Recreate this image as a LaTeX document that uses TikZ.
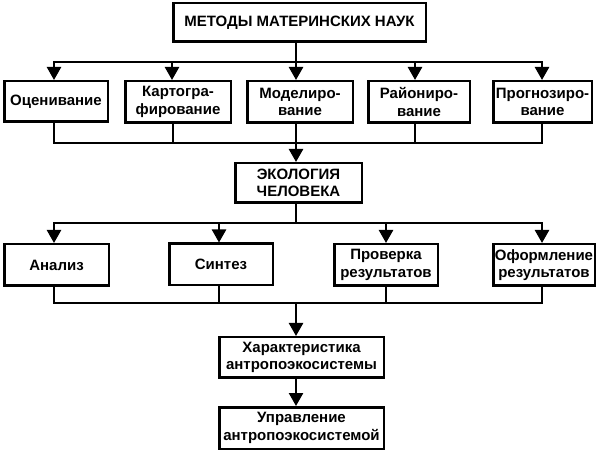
\documentclass[tikz,border=0pt]{standalone}
\usepackage{fontspec}
\setmainfont{Liberation Sans}
\usetikzlibrary{arrows.meta}
\begin{document}
\begin{tikzpicture}[x=1pt,y=-1pt,
  box/.style={draw=black,line width=2.5pt,fill=white,align=center,inner sep=0pt,
    font=\fontsize{15}{17.5}\selectfont\bfseries},
  link/.style={line width=2.5pt,line cap=rect},
  arr/.style={line width=2.5pt,-{Triangle[width=14pt,length=13pt]}},
]
\useasboundingbox[fill=white] (0,0) rectangle (600,454);
% boxes (minimum sizes = outer size - line width)
\node[box,minimum width=252.5pt,minimum height=38.5pt] (top) at (299.5,22.5) {МЕТОДЫ МАТЕРИНСКИХ НАУК};
\node[box,minimum width=103.5pt,minimum height=40.5pt] (r1a) at (56,101.5) {Оценивание};
\node[box,minimum width=105.5pt,minimum height=41.5pt] (r1b) at (178,102) {Картогра-\\фирование};
\node[box,minimum width=105.5pt,minimum height=41.5pt] (r1c) at (300,102) {Моделиро-\\вание};
\node[box,minimum width=101.5pt,minimum height=41.5pt] (r1d) at (419,102) {Райониро-\\вание};
\node[box,minimum width=98.5pt,minimum height=41.5pt] (r1e) at (542.5,102) {Прогнозиро-\\вание};
\node[box,minimum width=126.5pt,minimum height=39.5pt] (eco) at (298.5,183) {ЭКОЛОГИЯ\\ЧЕЛОВЕКА};
\node[box,minimum width=104.5pt,minimum height=41.5pt] (r2a) at (56.5,265) {Анализ};
\node[box,minimum width=103.5pt,minimum height=41.5pt] (r2b) at (221,264.5) {Синтез};
\node[box,minimum width=103.5pt,minimum height=41.5pt] (r2c) at (386,265) {Проверка\\результатов};
\node[box,minimum width=101.5pt,minimum height=41.5pt] (r2d) at (544,265) {Оформление\\результатов};
\node[box,minimum width=164.5pt,minimum height=40.5pt] (har) at (301.5,357.5) {Характеристика\\антропоэкосистемы};
\node[box,minimum width=164.5pt,minimum height=41.5pt] (upr) at (301.5,428) {Управление\\антропоэкосистемой};
% bus coordinates
\coordinate (b1a) at (54,62);
\coordinate (b1b) at (172,62);
\coordinate (b1c) at (296,62);
\coordinate (b1d) at (415,62);
\coordinate (b1e) at (542,62);
\coordinate (c1a) at (54,143);
\coordinate (c1b) at (173,143);
\coordinate (c1c) at (296,143);
\coordinate (c1d) at (415,143);
\coordinate (c1e) at (542,143);
\coordinate (b2a) at (54,223);
\coordinate (b2b) at (219,223);
\coordinate (b2c) at (296,223);
\coordinate (b2d) at (386,223);
\coordinate (b2e) at (542,223);
\coordinate (c2a) at (54,303);
\coordinate (c2b) at (219,303);
\coordinate (c2c) at (296,303);
\coordinate (c2d) at (386,303);
\coordinate (c2e) at (542,303);
% top -> row 1
\draw[link] (b1c |- top.south) -- (b1c);
\draw[link] (b1a) -- (b1e);
\foreach \b/\n in {b1a/r1a,b1b/r1b,b1c/r1c,b1d/r1d,b1e/r1e}
  \draw[arr] (\b) -- (\b |- \n.north);
% row 1 -> eco
\foreach \c/\n in {c1a/r1a,c1b/r1b,c1c/r1c,c1d/r1d,c1e/r1e}
  \draw[link] (\c |- \n.south) -- (\c);
\draw[link] (c1a) -- (c1e);
\draw[arr] (c1c) -- (c1c |- eco.north);
% eco -> row 2
\draw[link] (b2c |- eco.south) -- (b2c);
\draw[link] (b2a) -- (b2e);
\foreach \b/\n in {b2a/r2a,b2b/r2b,b2d/r2c,b2e/r2d}
  \draw[arr] (\b) -- (\b |- \n.north);
% row 2 -> har
\foreach \c/\n in {c2a/r2a,c2b/r2b,c2d/r2c,c2e/r2d}
  \draw[link] (\c |- \n.south) -- (\c);
\draw[link] (c2a) -- (c2e);
\draw[arr] (c2c) -- (c2c |- har.north);
% har -> upr
\draw[arr] (c2c |- har.south) -- (c2c |- upr.north);
\end{tikzpicture}
\end{document}
